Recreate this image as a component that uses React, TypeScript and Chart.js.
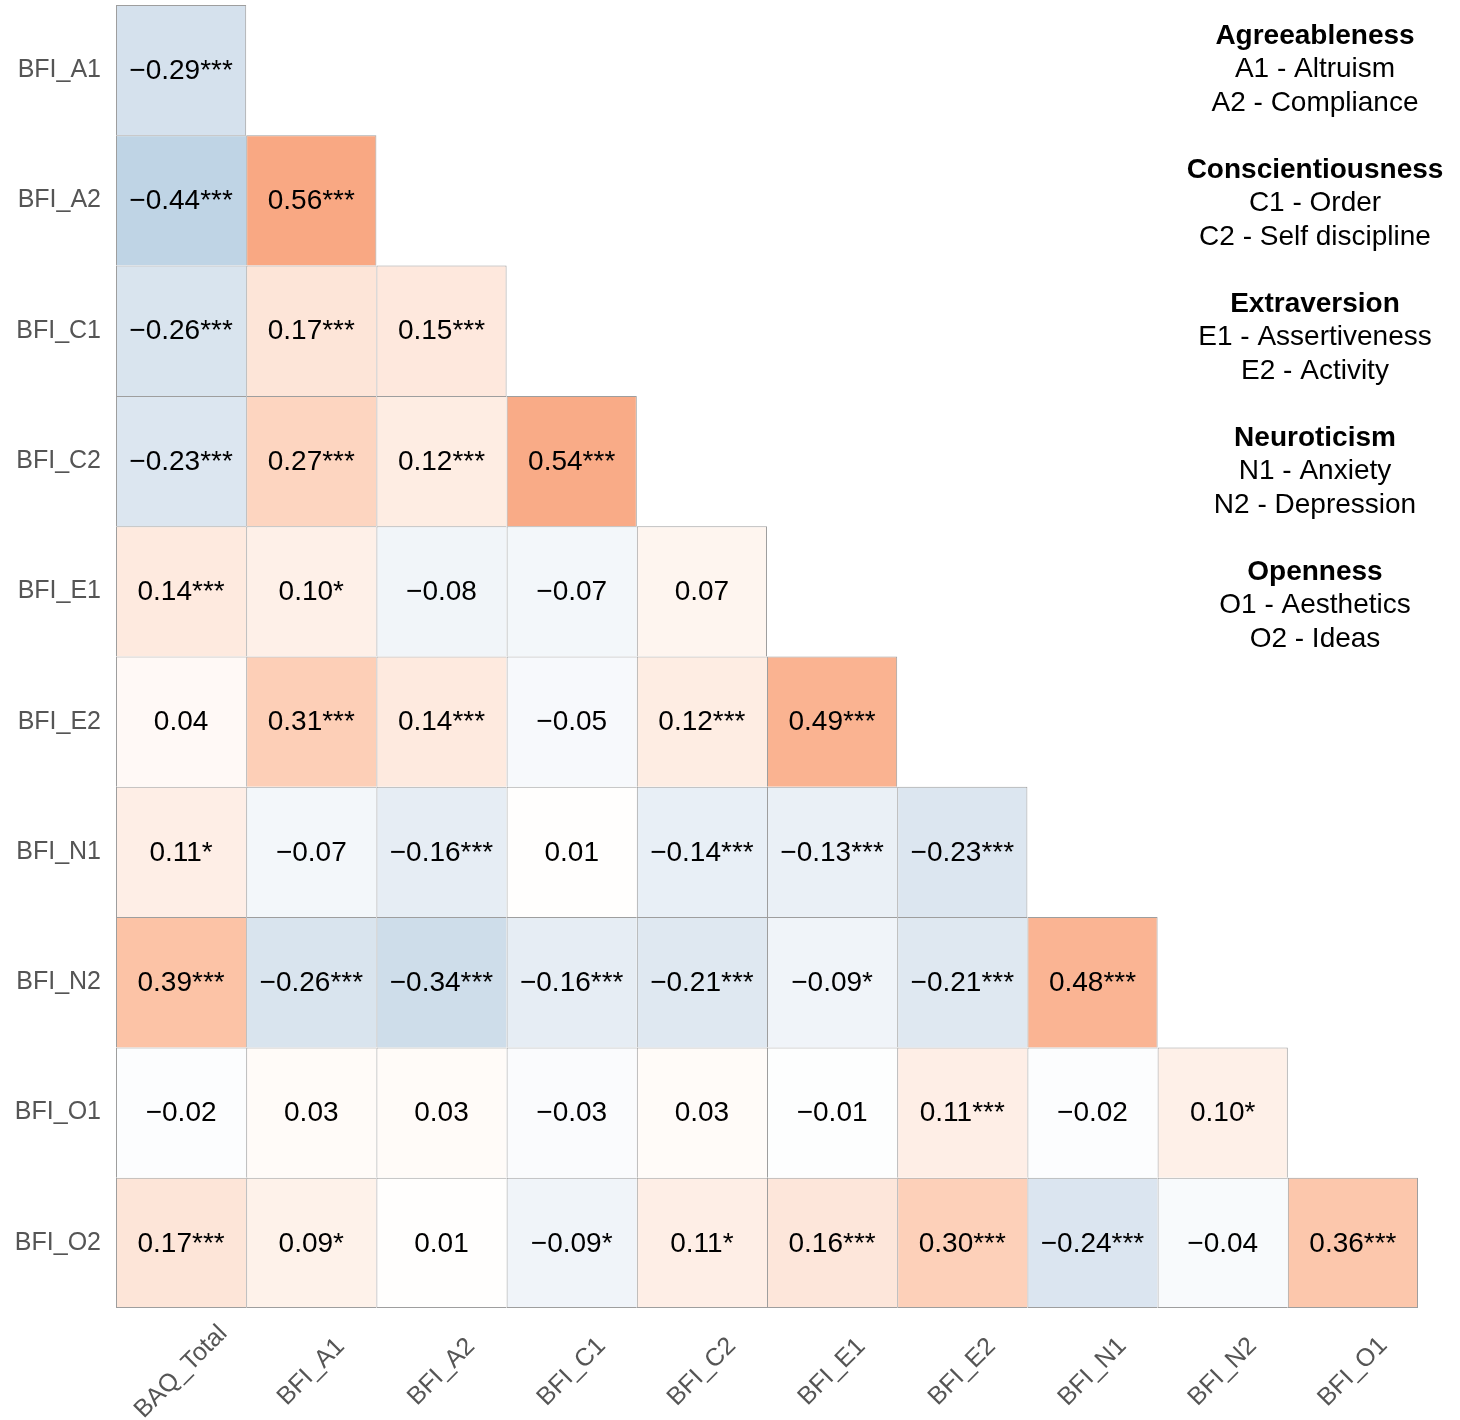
import React, { useEffect, useRef } from "react";
import { Chart, registerables } from "chart.js";

Chart.register(...registerables);

const FONT = "'Liberation Sans', Arial, Helvetica, sans-serif";

const columnLabels = [
  "BAQ_Total", "BFI_A1", "BFI_A2", "BFI_C1", "BFI_C2",
  "BFI_E1", "BFI_E2", "BFI_N1", "BFI_N2", "BFI_O1",
];

const rowLabels = [
  "BFI_A1", "BFI_A2", "BFI_C1", "BFI_C2", "BFI_E1",
  "BFI_E2", "BFI_N1", "BFI_N2", "BFI_O1", "BFI_O2",
];

// lower-triangular correlation matrix (row i has i+1 values)
const correlations: number[][] = [
  [-0.29],
  [-0.44, 0.56],
  [-0.26, 0.17, 0.15],
  [-0.23, 0.27, 0.12, 0.54],
  [0.14, 0.10, -0.08, -0.07, 0.07],
  [0.04, 0.31, 0.14, -0.05, 0.12, 0.49],
  [0.11, -0.07, -0.16, 0.01, -0.14, -0.13, -0.23],
  [0.39, -0.26, -0.34, -0.16, -0.21, -0.09, -0.21, 0.48],
  [-0.02, 0.03, 0.03, -0.03, 0.03, -0.01, 0.11, -0.02, 0.10],
  [0.17, 0.09, 0.01, -0.09, 0.11, 0.16, 0.30, -0.24, -0.04, 0.36],
];

const significance: string[][] = [
  ["***"],
  ["***", "***"],
  ["***", "***", "***"],
  ["***", "***", "***", "***"],
  ["***", "*", "", "", ""],
  ["", "***", "***", "", "***", "***"],
  ["*", "", "***", "", "***", "***", "***"],
  ["***", "***", "***", "***", "***", "*", "***", "***"],
  ["", "", "", "", "", "", "***", "", "*"],
  ["***", "*", "", "*", "*", "***", "***", "***", "", "***"],
];

const legendTitles = ["Agreeableness", "Conscientiousness", "Extraversion", "Neuroticism", "Openness"];
const legendItems: string[][] = [
  ["A1 - Altruism", "A2 - Compliance"],
  ["C1 - Order", "C2 - Self discipline"],
  ["E1 - Assertiveness", "E2 - Activity"],
  ["N1 - Anxiety", "N2 - Depression"],
  ["O1 - Aesthetics", "O2 - Ideas"],
];

type Stop = [number, number[]];
const posStops: Stop[] = [
  [0, [255, 255, 255]],
  [0.1, [254, 240, 232]],
  [0.2, [253, 224, 209]],
  [0.3, [253, 208, 185]],
  [0.4, [252, 193, 164]],
  [0.5, [250, 177, 143]],
  [0.56, [249, 168, 131]],
  [1, [220, 100, 80]],
];
const negStops: Stop[] = [
  [0, [255, 255, 255]],
  [0.1, [238, 243, 248]],
  [0.2, [224, 233, 242]],
  [0.3, [212, 224, 236]],
  [0.44, [191, 212, 229]],
  [1, [120, 160, 200]],
];

function cellColor(v: number): string {
  const stops = v >= 0 ? posStops : negStops;
  const a = Math.min(1, Math.abs(v));
  for (let i = 1; i < stops.length; i++) {
    const [t1, c1] = stops[i];
    const [t0, c0] = stops[i - 1];
    if (a <= t1) {
      const f = (a - t0) / (t1 - t0);
      const c = c0.map((x, k) => Math.round(x + (c1[k] - x) * f));
      return `rgb(${c[0]},${c[1]},${c[2]})`;
    }
  }
  const c = stops[stops.length - 1][1];
  return `rgb(${c[0]},${c[1]},${c[2]})`;
}

function fmt(v: number): string {
  const s = Math.abs(v).toFixed(2);
  return v < 0 ? "\u2212" + s : s;
}

const overlayPlugin = {
  id: "overlay",
  afterDatasetsDraw(chart: any) {
    const { ctx } = chart;
    const xs = chart.scales.x;
    const ys = chart.scales.y;
    ctx.save();
    ctx.fillStyle = "#000";
    ctx.font = `28px ${FONT}`;
    ctx.textAlign = "center";
    ctx.textBaseline = "middle";
    correlations.forEach((row, r) => {
      row.forEach((v, c) => {
        const x = xs.getPixelForValue(c);
        const y = ys.getPixelForValue(r + 0.5);
        ctx.fillText(fmt(v) + significance[r][c], x, y + 1);
      });
    });
    ctx.restore();
  },
  afterDraw(chart: any) {
    const { ctx } = chart;
    const xs = chart.scales.x;
    const area = chart.chartArea;
    ctx.save();
    // rotated x labels
    ctx.fillStyle = "#555555";
    ctx.font = `25px ${FONT}`;
    ctx.textAlign = "center";
    ctx.textBaseline = "middle";
    columnLabels.forEach((lab, i) => {
      const x = xs.getPixelForValue(i);
      ctx.save();
      ctx.translate(x, area.bottom + 64);
      ctx.rotate(-Math.PI / 4);
      ctx.fillText(lab, 0, 0);
      ctx.restore();
    });
    // legend text block
    ctx.fillStyle = "#000";
    const cx = 1315;
    legendTitles.forEach((title, g) => {
      const y0 = 36 + g * 134;
      ctx.font = `bold 28px ${FONT}`;
      ctx.fillText(title, cx, y0);
      ctx.font = `28px ${FONT}`;
      legendItems[g].forEach((item, k) => {
        ctx.fillText(item, cx, y0 + 33.5 * (k + 1));
      });
    });
    ctx.restore();
  },
};

export default function App() {
  const canvasRef = useRef<HTMLCanvasElement | null>(null);

  useEffect(() => {
    if (!canvasRef.current) return;
    const nRows = rowLabels.length;
    const datasets = rowLabels.map((row, r) => ({
      label: row,
      data: columnLabels.map((_, c) => (c < correlations[r].length ? [r, r + 1] : null)),
      backgroundColor: columnLabels.map((_, c) =>
        c < correlations[r].length ? cellColor(correlations[r][c]) : "rgba(0,0,0,0)"
      ),
      borderColor: "#9e9e9e",
      borderWidth: (ctx: any) => {
        const c = ctx.dataIndex;
        return {
          top: 1,
          left: 1,
          right: c === correlations[r].length - 1 ? 1 : 0,
          bottom: r === nRows - 1 ? 1 : 0,
        };
      },
      borderSkipped: false,
      grouped: false,
      inflateAmount: 0,
      barPercentage: 1,
      categoryPercentage: 1,
    }));

    const chart = new Chart(canvasRef.current, {
      type: "bar",
      data: { labels: columnLabels, datasets: datasets as any },
      options: {
        responsive: false,
        animation: false,
        devicePixelRatio: 1,
        layout: { padding: { left: 0, top: 5, right: 42, bottom: 0 } },
        plugins: {
          legend: { display: false },
          tooltip: { enabled: false },
        },
        scales: {
          x: {
            type: "category",
            offset: true,
            grid: { display: false, drawTicks: false },
            border: { display: false },
            ticks: { display: false },
            afterFit: (scale: any) => {
              scale.height = 112;
              scale.paddingLeft = 0;
              scale.paddingRight = 0;
            },
          },
          y: {
            type: "linear",
            min: 0,
            max: 10,
            reverse: true,
            bounds: "data",
            grid: { display: false, drawTicks: false },
            border: { display: false },
            afterBuildTicks: (scale: any) => {
              scale.ticks = rowLabels.map((_, i) => ({ value: i + 0.5 }));
            },
            ticks: {
              padding: 15,
              color: "#555555",
              font: { family: FONT, size: 25 },
              callback: (value: any) => rowLabels[Math.floor(Number(value))] ?? "",
            },
            afterFit: (scale: any) => {
              scale.width = 116;
              scale.paddingTop = 0;
              scale.paddingBottom = 0;
            },
          },
        },
      } as any,
      plugins: [overlayPlugin],
    });
    return () => chart.destroy();
  }, []);

  return (
    <div style={{ position: "absolute", left: 0, top: 0, width: 1460, height: 1420, background: "#fff" }}>
      <canvas ref={canvasRef} width={1460} height={1420} style={{ width: 1460, height: 1420 }} />
    </div>
  );
}
